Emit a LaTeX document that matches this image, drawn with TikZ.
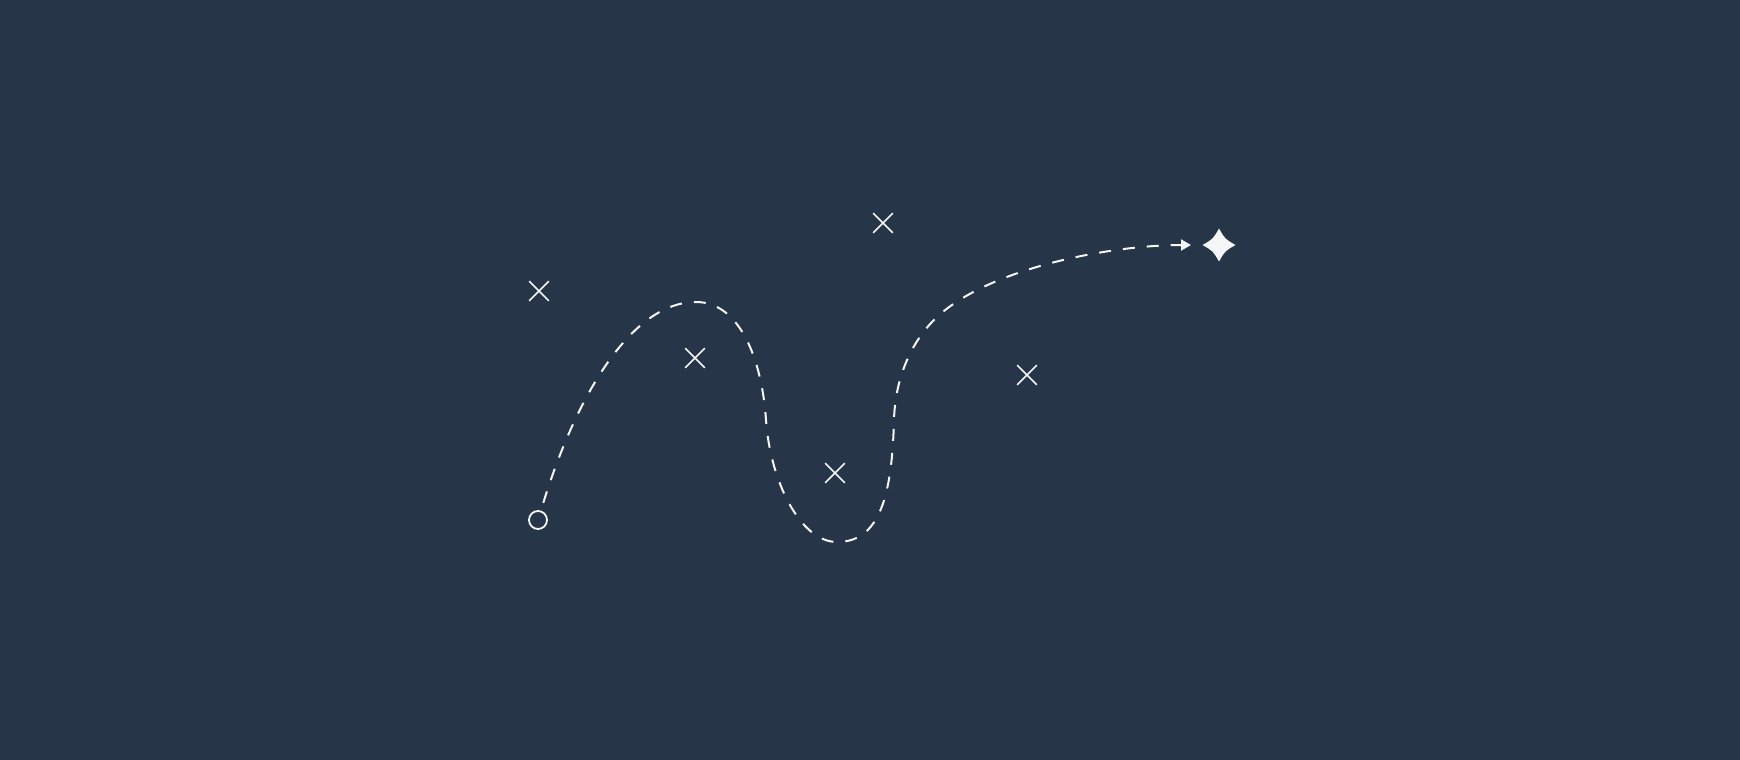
\documentclass[tikz,border=0pt]{standalone}
\usetikzlibrary{arrows.meta, shapes.misc}
\definecolor{night}{HTML}{263548}
\definecolor{chalk}{HTML}{F4F6F8}
\begin{document}
\begin{tikzpicture}[x=1pt, y=-1pt]
        \tikzset{
            trail/.style={draw=chalk, line width=2pt, dash pattern=on 12pt off 12pt,
                -{Triangle[length=10pt, width=11pt]}},
            crossmark/.style={cross out, draw=chalk, line width=1.6pt,
                minimum size=18pt, inner sep=0pt},
            origin/.style={circle, draw=chalk, line width=1.8pt,
                minimum size=18pt, inner sep=0pt},
            goalstar/.style={fill=chalk}
        }

        \fill[night] (0,0) rectangle (1740,760);
        \useasboundingbox (0,0) rectangle (1740,760);

        \node[origin] (start) at (538,520) {};

        \foreach \name/\px/\py in {hazA/539/291, hazB/695/358, hazC/835/473, hazD/883/223, hazE/1027/375}
            \node[crossmark] (\name) at (\px,\py) {};

        \coordinate (peak) at (696,302);
        \coordinate (dip) at (837,542);
        \coordinate (tipEnd) at (1191,245);
        \coordinate (goal) at (1219,245);

        \draw[trail, shorten <=8pt] (start) .. controls (575,400) and (630,302) .. (peak)
            .. controls (740,302) and (762,360) .. (766,420)
            .. controls (770,480) and (800,542) .. (dip)
            .. controls (880,542) and (892,495) .. (894,420)
            .. controls (895,380) and (910,345) .. (932,322)
            .. controls (982,269) and (1110,245) .. (tipEnd);

        \begin{scope}[shift={(goal)}]
            \fill[goalstar] (0,-16.5) .. controls (6,-6) .. (16.5,0)
                .. controls (6,6) .. (0,16.5)
                .. controls (-6,6) .. (-16.5,0)
                .. controls (-6,-6) .. cycle;
        \end{scope}
    \end{tikzpicture}
\end{document}
